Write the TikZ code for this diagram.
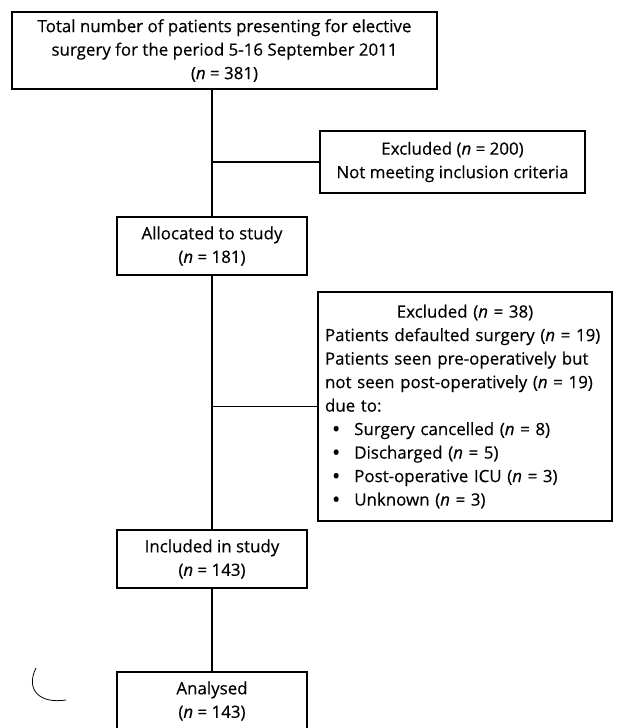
\documentclass[tikz,border=0pt]{standalone}
\usepackage{fontspec}
\setmainfont{Open Sans}[FakeBold=0.4]
\usetikzlibrary{positioning}

\newcommand{\itembullet}{\hspace*{7bp}\raisebox{-1.6bp}{\scalebox{1.3}{\textbullet}}\hspace{14bp}}

\begin{document}
\begin{tikzpicture}[
            x=1bp, y=-1bp,
            line width=1.2bp,
            every node/.style = {font=\fontsize{16.9bp}{23.5bp}\selectfont, inner sep=0pt},
            box/.style = {draw=black, rectangle, align=center},
            exclbox/.style = {box, align=left, inner xsep=7bp}
          ]
          \useasboundingbox (0,0) rectangle (618,728);
          % boxes down the middle
          \node[box, minimum width=425bp, minimum height=77bp] (total) at (224.5,50.5)
            {Total number of patients presenting for elective\\
             surgery for the period 5-16 September 2011\\
             (\textit{n} = 381)};
          \node[box, minimum width=190bp, minimum height=58bp] (alloc) at (212,246)
            {Allocated to study\\(\textit{n} = 181)};
          \node[box, minimum width=190bp, minimum height=58bp] (incl) at (212,559)
            {Included in study\\(\textit{n} = 143)};
          \node[box, minimum width=190bp, minimum height=58bp] (anal) at (212,701)
            {Analysed\\(\textit{n} = 143)};
          % excluded boxes on the right
          \node[box, minimum width=265bp, minimum height=62bp] (excla) at (452.5,162)
            {Excluded (\textit{n} = 200)\\Not meeting inclusion criteria};
          \node[exclbox, text width=280bp, minimum height=229bp] (exclb) at (465,406.5)
            {\makebox[\linewidth]{Excluded (\textit{n}~=~38)}\\
             \mbox{Patients defaulted surgery (\textit{n}~=~19)}\\
             \mbox{Patients seen pre-operatively but}\\
             \mbox{not seen post-operatively (\textit{n}~=~19)}\\
             due to:\\
             \itembullet Surgery cancelled (\textit{n}~=~8)\\
             \itembullet Discharged (\textit{n}~=~5)\\
             \itembullet Post-operative ICU (\textit{n}~=~3)\\
             \itembullet Unknown (\textit{n}~=~3)};
          % connectors
          \draw (alloc.north) -- (alloc.north |- total.south);
          \draw (alloc.south) -- (incl.north);
          \draw (incl.south) -- (anal.north);
          \draw (excla.west) -- (excla.west -| alloc.north);
          \draw (exclb.west) -- (exclb.west -| alloc.south);
          % stray mark in the margin
          \draw[line width=0.8bp] (36,668) .. controls (25,690) and (40,704) .. (66,700);
        \end{tikzpicture}
\end{document}
